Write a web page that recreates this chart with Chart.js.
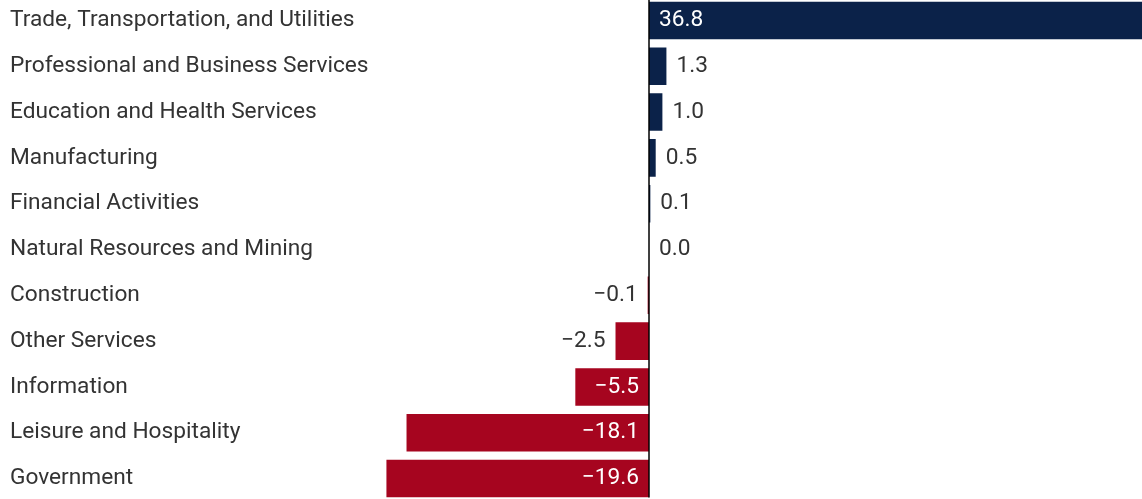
<!DOCTYPE html>
<html>
<head>
<meta charset="utf-8">
<script src="https://cdn.jsdelivr.net/npm/chart.js@4"></script>
<style>
  html, body { margin: 0; padding: 0; background: #fff; overflow: hidden; }
  #wrap { width: 1142px; height: 505px; margin-top: -3px; }
</style>
</head>
<body>
<div id="wrap"><canvas id="chart"></canvas></div>
<script>
const categories = [
  "Trade, Transportation, and Utilities",
  "Professional and Business Services",
  "Education and Health Services",
  "Manufacturing",
  "Financial Activities",
  "Natural Resources and Mining",
  "Construction",
  "Other Services",
  "Information",
  "Leisure and Hospitality",
  "Government"
];
const values = [36.8, 1.3, 1.0, 0.5, 0.1, 0.0, -0.1, -2.5, -5.5, -18.1, -19.6];

const NAVY = "#0b2249";
const RED = "#a6051f";
const TEXT = "#333333";

const fmt = v => (v < 0 ? "\u2212" : "") + Math.abs(v).toFixed(1);

// zero line + value labels
const overlay = {
  id: "overlay",
  afterDatasetsDraw(chart) {
    const { ctx, scales: { x }, chartArea } = chart;
    const x0 = x.getPixelForValue(0);
    ctx.save();
    ctx.strokeStyle = "#000";
    ctx.lineWidth = 1.5;
    ctx.beginPath();
    ctx.moveTo(x0, 0);
    ctx.lineTo(x0, chartArea.bottom - 4);
    ctx.stroke();

    ctx.font = "22.7px Roboto";
    ctx.textBaseline = "middle";
    chart.getDatasetMeta(0).data.forEach((bar, i) => {
      const v = values[i];
      const label = fmt(v);
      const tw = ctx.measureText(label).width;
      const barW = Math.abs(bar.x - x0);
      const inside = barW > tw + 20;
      ctx.fillStyle = inside ? "#fff" : TEXT;
      if (v >= 0) {
        ctx.textAlign = "left";
        ctx.fillText(label, inside ? x0 + 10 : bar.x + 10, bar.y);
      } else {
        ctx.textAlign = "right";
        ctx.fillText(label, inside ? x0 - 10 : bar.x - 10, bar.y);
      }
    });
    ctx.restore();
  }
};

new Chart(document.getElementById("chart"), {
  type: "bar",
  data: {
    labels: categories,
    datasets: [{
      data: values,
      backgroundColor: values.map(v => (v >= 0 ? NAVY : RED)),
      borderWidth: 0,
      categoryPercentage: 0.82,
      barPercentage: 1
    }]
  },
  options: {
    indexAxis: "y",
    responsive: true,
    maintainAspectRatio: false,
    animation: false,
    layout: { padding: { left: 10, right: 0, top: 0, bottom: 0 } },
    plugins: { legend: { display: false }, tooltip: { enabled: false } },
    scales: {
      x: {
        min: -20.08,
        max: 36.8,
        display: false
      },
      y: {
        grid: { display: false },
        border: { display: false },
        afterFit(scale) { scale.width = 370; },
        ticks: {
          crossAlign: "far",
          padding: 0,
          color: TEXT,
          font: { family: "Roboto", size: 22.7, lineHeight: 0.05 }
        }
      }
    }
  },
  plugins: [overlay]
});
</script>
</body>
</html>
